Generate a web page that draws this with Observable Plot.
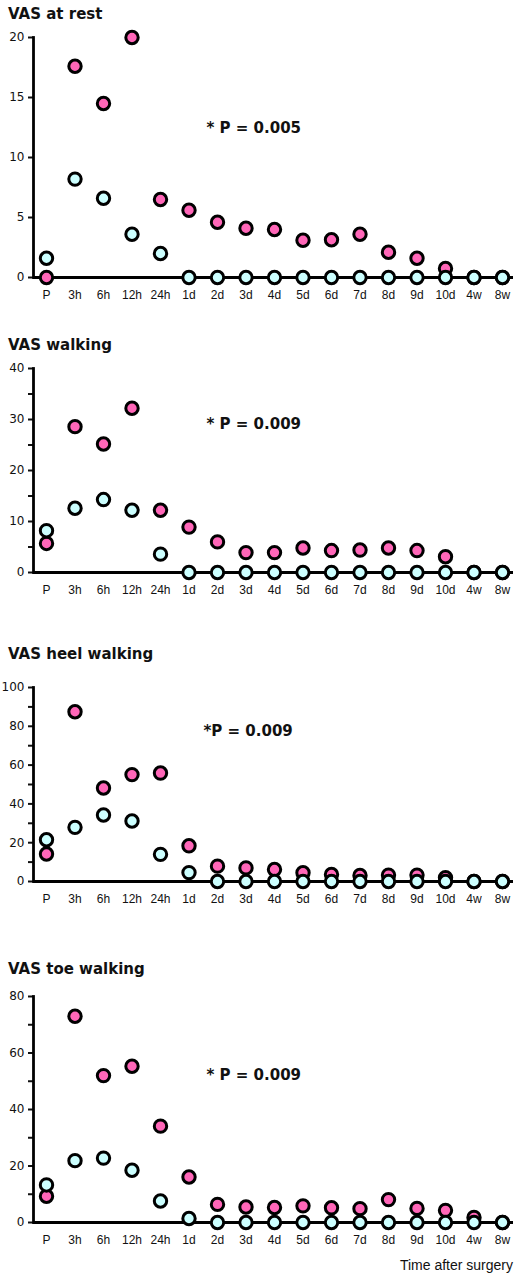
<!DOCTYPE html>
<html>
<head>
<meta charset="utf-8">
<script src="https://cdn.jsdelivr.net/npm/d3@7"></script>
<script src="https://cdn.jsdelivr.net/npm/@observablehq/plot@0.6"></script>
<style>
  body { margin: 0; background: #fff; }
  #root { position: relative; width: 515px; height: 1277px; overflow: hidden; background: #fff; }
  .title { position: absolute; left: 8px; font-family: "DejaVu Sans", sans-serif; font-weight: bold;
           font-size: 15px; line-height: 15px; color: #111; white-space: nowrap; }
  .panel { position: absolute; left: 0; }
  .xlabel { position: absolute; right: 2px; font-family: "Liberation Sans", Arial, sans-serif;
            font-size: 14px; line-height: 14px; color: #111; white-space: nowrap; }
</style>
</head>
<body>
<div id="root"></div>
<script>
// ---- data ----
const timepoints = ["P","3h","6h","12h","24h","1d","2d","3d","4d","5d","6d","7d","8d","9d","10d","4w","8w"];

const panelTitles = ["VAS at rest", "VAS walking", "VAS heel walking", "VAS toe walking"];
const pLabels = ["* P = 0.005", "* P = 0.009", "*P = 0.009", "* P = 0.009"];
const pLabelValues = [12.46, 29.1, 77.6, 52.0];

const restPink = [0, 17.6, 14.5, 20.0, 6.5, 5.6, 4.6, 4.1, 4.0, 3.1, 3.15, 3.6, 2.1, 1.6, 0.75, 0, 0];
const restCyan = [1.6, 8.2, 6.6, 3.6, 2.0, 0, 0, 0, 0, 0, 0, 0, 0, 0, 0, 0, 0];

const walkPink = [5.7, 28.6, 25.2, 32.2, 12.2, 8.9, 6.0, 3.9, 3.9, 4.8, 4.3, 4.4, 4.8, 4.3, 3.1, 0, 0];
const walkCyan = [8.2, 12.6, 14.3, 12.2, 3.6, 0, 0, 0, 0, 0, 0, 0, 0, 0, 0, 0, 0];

const heelPink = [14.2, 87.5, 48.2, 55.1, 55.9, 18.4, 7.9, 7.0, 6.2, 4.5, 3.6, 3.1, 3.3, 3.3, 2.0, 0, 0];
const heelCyan = [21.5, 27.9, 34.3, 31.2, 14.0, 4.6, 0, 0, 0, 0, 0, 0, 0, 0, 0, 0, 0];

const toePink = [9.3, 73.0, 52.0, 55.3, 34.1, 16.1, 6.4, 5.5, 5.3, 5.9, 5.2, 4.9, 8.1, 5.0, 4.3, 1.8, 0];
const toeCyan = [13.3, 21.9, 22.8, 18.5, 7.6, 1.4, 0, 0, 0, 0, 0, 0, 0, 0, 0, 0, 0];

const yMax = [20, 40, 100, 80];
const yTickStep = [5, 5, 10, 10];
const yLabelStep = [5, 10, 20, 20];

const pinkColor = "#ff66b8";
const cyanColor = "#ccffff";

// ---- layout ----
const layout = [
  { svgTop: 27,  plotH: 240, titleTop: 7.3 },
  { svgTop: 358, plotH: 204, titleTop: 338.3 },
  { svgTop: 677, plotH: 194, titleTop: 647.3 },
  { svgTop: 986, plotH: 226, titleTop: 962.3 }
];

const series = [[restPink, restCyan], [walkPink, walkCyan], [heelPink, heelCyan], [toePink, toeCyan]];

const root = document.getElementById("root");

series.forEach(([pink, cyan], k) => {
  const pinkRows = timepoints.map((t, i) => ({ t, v: pink[i] }));
  const cyanRows = timepoints.map((t, i) => ({ t, v: cyan[i] }));
  const ticks = d3.range(0, yMax[k] + 0.001, yTickStep[k]);
  const mt = 10, mb = 30;
  const chart = Plot.plot({
    width: 515,
    height: layout[k].plotH + mt + mb,
    marginTop: mt,
    marginBottom: mb,
    marginLeft: 33,
    marginRight: 2,
    style: { fontFamily: "'Liberation Sans', Arial, sans-serif", fontSize: "12px", color: "#111", overflow: "visible", background: "transparent" },
    x: { type: "point", domain: timepoints, range: [46, 502], padding: 0, round: false },
    y: { domain: [0, yMax[k]] },
    marks: [
      Plot.axisY({
        ticks: ticks,
        tickFormat: d => (Math.abs(d % yLabelStep[k]) < 1e-9 ? String(d) : ""),
        tickSize: 5, tickPadding: 4, strokeWidth: 2,
        fontFamily: "'DejaVu Sans', sans-serif", fontSize: 12,
        label: null
      }),
      Plot.axisX({ tickSize: 0, tickPadding: 13, fontSize: 12, label: null }),
      Plot.frame({ anchor: "left", strokeWidth: 2.8, stroke: "#000" }),
      Plot.ruleY([0], { strokeWidth: 2.8, stroke: "#000" }),
      Plot.dot(pinkRows, { x: "t", y: "v", r: 6.2, fill: pinkColor, stroke: "#000", strokeWidth: 3 }),
      Plot.dot(cyanRows, { x: "t", y: "v", r: 6.2, fill: cyanColor, stroke: "#000", strokeWidth: 3 }),
      Plot.text([pLabels[k]], {
        x: () => timepoints[6], y: () => pLabelValues[k], text: d => d,
        textAnchor: "start", dx: k === 2 ? -14 : -11,
        fontFamily: "'DejaVu Sans', sans-serif", fontWeight: "bold", fontSize: 15, fill: "#111"
      })
    ]
  });
  const panel = document.createElement("div");
  panel.className = "panel";
  panel.style.top = layout[k].svgTop + "px";
  panel.appendChild(chart);
  root.appendChild(panel);

  const title = document.createElement("div");
  title.className = "title";
  title.style.top = layout[k].titleTop + "px";
  title.textContent = panelTitles[k];
  root.appendChild(title);
});

const xl = document.createElement("div");
xl.className = "xlabel";
xl.style.top = "1258px";
xl.textContent = "Time after surgery";
root.appendChild(xl);
</script>
</body>
</html>
